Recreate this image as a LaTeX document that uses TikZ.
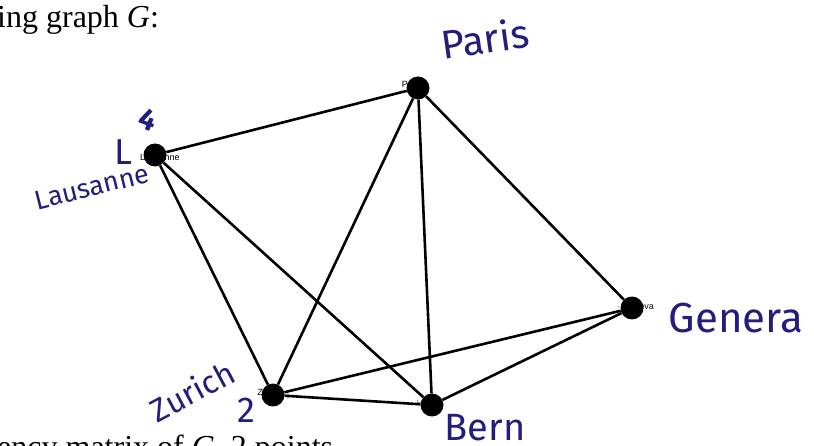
\documentclass[tikz,border=0pt]{standalone}
\usepackage{fontspec}
\setmainfont{Liberation Serif}
\newfontfamily\hand{Fira Sans}
\newfontfamily\smallsans{Liberation Sans}
\definecolor{ink}{RGB}{35,30,125}
\begin{document}
\begin{tikzpicture}[x=1pt,y=-1pt,
  vertex/.style={circle,fill=black,inner sep=0pt,minimum size=23pt},
  edge/.style={line width=2.6pt,black},
  tiny/.style={font=\smallsans\fontsize{9}{10}\selectfont,inner sep=0pt,black},
  hw/.style={font=\hand\fontsize{#1}{#1}\selectfont,text=ink,inner sep=0pt},
  printed/.style={font=\fontsize{32}{34}\selectfont,inner sep=0pt,anchor=base west}]
\useasboundingbox (0,0) rectangle (814,446);
\fill[white] (0,0) rectangle (814,446);
% printed text
\node[printed] (top) at (-3,28) {ing graph \textit{G}:};
\node[printed] (bottom) at (-3,457) {ency matrix of \textit{G}. 2 points};
% small printed vertex labels (under the dots)
\node[tiny,anchor=west] (tl) at (140,157) {Lausanne};
\node[tiny,anchor=east] (tp) at (413,84) {Pa};
\node[tiny,anchor=east] (tg) at (654,306) {$\cdot$ Geneva};
\node[tiny,anchor=east] (tz) at (263,392) {Z};
\node[tiny,anchor=west] (tz2) at (283,396) {$\dashv$};
\node[tiny,anchor=east] (tb) at (423,403) {$\vdash$};
% vertices
\node[vertex] (P) at (418,88) {};
\node[vertex] (L) at (155,155) {};
\node[vertex] (G) at (632,308) {};
\node[vertex] (Z) at (273,395) {};
\node[vertex] (B) at (432,405) {};
% edges
\draw[edge] (L) -- (P);
\draw[edge] (L) -- (Z);
\draw[edge] (L) -- (B);
\draw[edge] (P) -- (Z);
\draw[edge] (P) -- (B);
\draw[edge] (P) -- (G);
\draw[edge] (Z) -- (G);
\draw[edge] (Z) -- (B);
\draw[edge] (B) -- (G);
% handwritten labels
\node[hw=40,rotate=8] (hp) at (485,38) {Paris};
\node[hw=27,rotate=14] (hl) at (92,187) {Lausanne};
\node[hw=36] (hL) at (123,152) {L};
\node[hw=30,rotate=-20,font=\hand\bfseries\fontsize{30}{30}\selectfont] (h4) at (148,120) {4};
\node[hw=42] (hg) at (736,318) {Genera};
\node[hw=32,rotate=28] (hz) at (192,391) {Zurich};
\node[hw=36] (h2) at (246,410) {2};
\node[hw=38] (hb) at (485,428) {Bern};
\end{tikzpicture}
\end{document}
